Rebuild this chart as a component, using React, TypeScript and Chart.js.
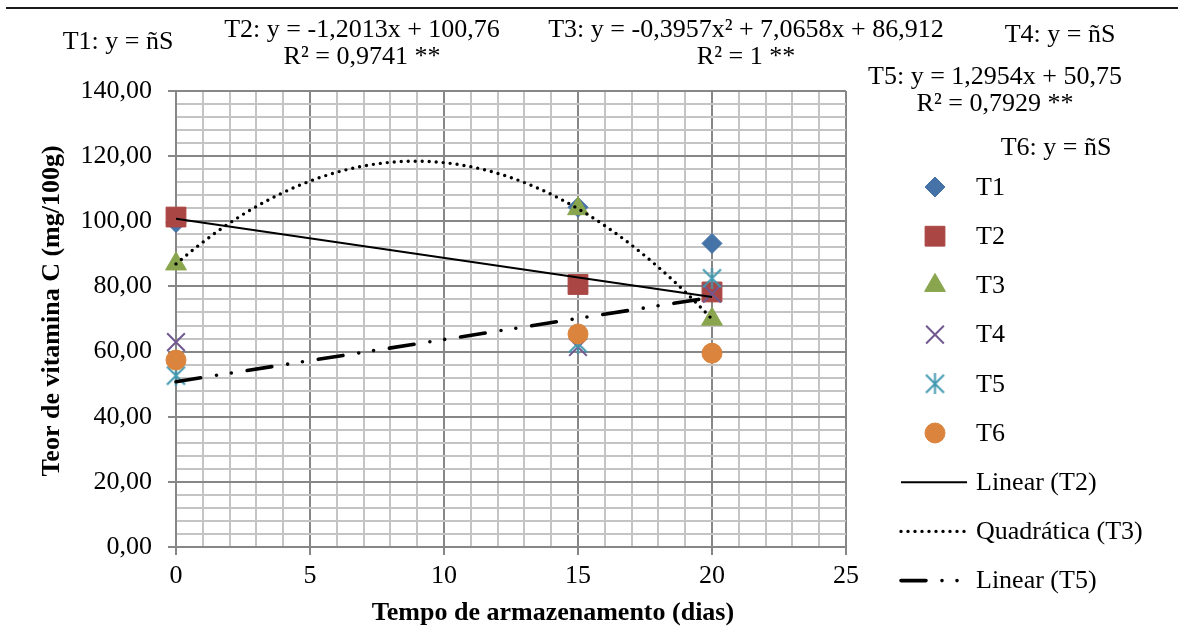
import React, { useEffect, useRef } from 'react';
import { Chart, registerables, PointElement } from 'chart.js';

Chart.register(...registerables);

// Storage time (days) and vitamin C content (mg/100g) for each treatment
const days = [0, 15, 20];
const seriesNames = ['T1', 'T2', 'T3', 'T4', 'T5', 'T6'];
const t1 = [99.6, 104.3, 93.2];
const t2 = [101.3, 80.6, 78.3];
const t3 = [86.91, 103.87, 69.95];
const t4 = [62.9, 61.4, 77.8];
const t5 = [52.6, 62.5, 82.5];
const t6 = [57.4, 65.4, 59.5];

// Fitted regression coefficients (constant, x, x²)
const fitT2 = [100.76, -1.2013];
const fitT3 = [86.912, 7.0658, -0.3957];
const fitT5 = [50.75, 1.2954];
const fitRange = [0, 20];
const fitNames = ['Linear (T2)', 'Quadrática (T3)', 'Linear (T5)'];

// Axis ticks
const xMajorTicks = [0, 5, 10, 15, 20, 25];
const yMajorTicks = [0, 20, 40, 60, 80, 100, 120, 140];

// Equation labels
const eqT1 = ['T1: y = ñS'];
const eqT2 = ['T2: y = -1,2013x + 100,76', 'R² = 0,9741 **'];
const eqT3 = ['T3: y = -0,3957x² + 7,0658x + 86,912', 'R² = 1 **'];
const eqT4 = ['T4: y = ñS'];
const eqT5 = ['T5: y = 1,2954x + 50,75', 'R² = 0,7929 **'];
const eqT6 = ['T6: y = ñS'];

const xTitle = 'Tempo de armazenamento (dias)';
const yTitle = 'Teor de vitamina C (mg/100g)';

const COLORS = ['#4572A7', '#AA4643', '#89A54E', '#71588F', '#4198AF', '#DB843D'];
const FONT = '"Liberation Serif", "Times New Roman", serif';
const MAJOR_GRID = '#878787';
const MINOR_GRID = '#C4C4C4';

function polyAt(coefs: number[], x: number) {
  return coefs.reduce((s, c, i) => s + c * Math.pow(x, i), 0);
}

function fitPoints(coefs: number[], steps: number) {
  const [a, b] = fitRange;
  const pts = [] as { x: number; y: number }[];
  for (let i = 0; i <= steps; i++) {
    const x = a + ((b - a) * i) / steps;
    pts.push({ x, y: polyAt(coefs, x) });
  }
  return pts;
}

function makeAsterisk(color: string) {
  const size = 21;
  const c = document.createElement('canvas');
  c.width = size;
  c.height = size;
  const g = c.getContext('2d')!;
  g.strokeStyle = color;
  g.lineWidth = 2;
  g.beginPath();
  g.moveTo(1.5, 1.5);
  g.lineTo(size - 1.5, size - 1.5);
  g.moveTo(size - 1.5, 1.5);
  g.lineTo(1.5, size - 1.5);
  g.moveTo(size / 2, 0);
  g.lineTo(size / 2, size);
  g.stroke();
  return c;
}

const decorations = {
  id: 'decorations',
  afterDraw(chart: any) {
    const { ctx } = chart;
    ctx.save();

    // rule across the top
    ctx.strokeStyle = '#1a1a1a';
    ctx.lineWidth = 2;
    ctx.beginPath();
    ctx.moveTo(6, 8);
    ctx.lineTo(1178, 8);
    ctx.stroke();

    // regression equations
    ctx.fillStyle = '#000';
    ctx.font = `26px ${FONT}`;
    ctx.textAlign = 'center';
    ctx.textBaseline = 'middle';
    const eqs: [string[], number, number][] = [
      [eqT1, 118, 42],
      [eqT2, 362, 30],
      [eqT3, 746, 30],
      [eqT4, 1060, 35],
      [eqT5, 995, 77],
      [eqT6, 1056, 148],
    ];
    eqs.forEach(([lines, x, y]) => {
      lines.forEach((t, k) => ctx.fillText(t, x, y + k * 27));
    });

    // axis titles
    ctx.font = `bold 26px ${FONT}`;
    ctx.fillText(xTitle, 553, 613);
    ctx.save();
    ctx.translate(52, 311);
    ctx.rotate(-Math.PI / 2);
    ctx.fillText(yTitle, 0, 0);
    ctx.restore();

    // legend
    ctx.font = `26px ${FONT}`;
    ctx.textAlign = 'left';
    const area = { left: 0, top: 0, right: chart.width, bottom: chart.height };
    chart.data.datasets.forEach((ds: any, i: number) => {
      const y = 187 + i * 49.2;
      const meta = chart.getDatasetMeta(i);
      if (ds.showLine) {
        ctx.save();
        ctx.strokeStyle = ds.borderColor;
        ctx.lineWidth = ds.borderWidth;
        ctx.lineCap = ds.borderCapStyle || 'butt';
        ctx.setLineDash(ds.borderDash || []);
        ctx.beginPath();
        ctx.moveTo(901, y);
        ctx.lineTo(967, y);
        ctx.stroke();
        ctx.restore();
      } else {
        const src = meta.data[0];
        const pt = new (PointElement as any)({ x: 935, y, options: src.options });
        pt.draw(ctx, area);
      }
      ctx.fillStyle = '#000';
      ctx.fillText(ds.label, 976, y + 1);
    });

    ctx.restore();
  },
};

export default function App() {
  const canvasRef = useRef<HTMLCanvasElement | null>(null);

  useEffect(() => {
    document.body.style.margin = '0';
    const canvas = canvasRef.current;
    if (!canvas) return;

    const pointSeries = [t1, t2, t3, t4, t5, t6];
    const styles: any[] = [
      { pointStyle: 'rectRot', pointRadius: 10 },
      { pointStyle: 'rect', pointRadius: 14 },
      { pointStyle: 'triangle', pointRadius: 12 },
      { pointStyle: 'crossRot', pointRadius: 12.5, pointBorderWidth: 2 },
      { pointStyle: makeAsterisk(COLORS[4]), pointRadius: 10 },
      { pointStyle: 'circle', pointRadius: 10 },
    ];

    const pointDatasets = pointSeries.map((vals, i) => ({
      label: seriesNames[i],
      data: days.map((d, k) => ({ x: d, y: vals[k] })),
      showLine: false,
      clip: false,
      backgroundColor: COLORS[i],
      borderColor: COLORS[i],
      pointBackgroundColor: COLORS[i],
      pointBorderColor: COLORS[i],
      pointBorderWidth: 1,
      order: 8 - i,
      ...styles[i],
    }));

    const fitDatasets = [
      {
        label: fitNames[0],
        data: fitPoints(fitT2, 1),
        borderWidth: 2,
        borderDash: [],
        borderCapStyle: 'butt',
      },
      {
        label: fitNames[1],
        data: fitPoints(fitT3, 80),
        borderWidth: 3.4,
        borderDash: [0, 7],
        borderCapStyle: 'round',
      },
      {
        label: fitNames[2],
        data: fitPoints(fitT5, 1),
        borderWidth: 3.6,
        borderDash: [25, 16, 0, 15, 0, 16],
        borderCapStyle: 'round',
      },
    ].map((d, i) => ({
      ...d,
      showLine: true,
      clip: false,
      borderColor: '#000',
      backgroundColor: '#000',
      pointRadius: 0,
      tension: 0,
      fill: false,
      order: i,
    }));

    const isMajor = (v: number, list: number[]) => list.some((m) => Math.abs(m - v) < 1e-6);

    const chart = new Chart(canvas, {
      type: 'scatter',
      data: { datasets: [...pointDatasets, ...fitDatasets] as any },
      options: {
        animation: false,
        responsive: false,
        devicePixelRatio: 1,
        layout: { padding: { top: 91, right: 332, bottom: 0, left: 0 } },
        plugins: {
          legend: { display: false },
          tooltip: { enabled: false },
        },
        scales: {
          x: {
            type: 'linear',
            min: 0,
            max: 25,
            afterFit: (s: any) => {
              s.height = 88;
            },
            ticks: {
              stepSize: 1,
              autoSkip: false,
              maxRotation: 0,
              padding: 6,
              color: '#000',
              font: { family: FONT, size: 26 },
              callback: (v: any) => (isMajor(Number(v), xMajorTicks) ? String(v) : ''),
            },
            grid: {
              color: (c: any) => (isMajor(c.tick.value, xMajorTicks) ? MAJOR_GRID : MINOR_GRID),
              tickColor: (c: any) => (isMajor(c.tick.value, xMajorTicks) ? MAJOR_GRID : 'rgba(0,0,0,0)'),
              lineWidth: 2,
              tickLength: 8,
            },
            border: { color: MAJOR_GRID, width: 2 },
          },
          y: {
            type: 'linear',
            min: 0,
            max: 140,
            afterFit: (s: any) => {
              s.width = 176;
            },
            ticks: {
              stepSize: 4,
              autoSkip: false,
              padding: 16,
              color: '#000',
              font: { family: FONT, size: 26 },
              callback: (v: any) =>
                isMajor(Number(v), yMajorTicks) ? Number(v).toFixed(2).replace('.', ',') : '',
            },
            grid: {
              color: (c: any) => (isMajor(c.tick.value, yMajorTicks) ? MAJOR_GRID : MINOR_GRID),
              tickColor: (c: any) => (isMajor(c.tick.value, yMajorTicks) ? MAJOR_GRID : 'rgba(0,0,0,0)'),
              lineWidth: 2,
              tickLength: 8,
            },
            border: { color: MAJOR_GRID, width: 2 },
          },
        },
      },
      plugins: [decorations],
    });

    return () => chart.destroy();
  }, []);

  return (
    <div style={{ width: 1178, height: 635, background: '#fff' }}>
      <canvas ref={canvasRef} width={1178} height={635} style={{ display: 'block' }} />
    </div>
  );
}
